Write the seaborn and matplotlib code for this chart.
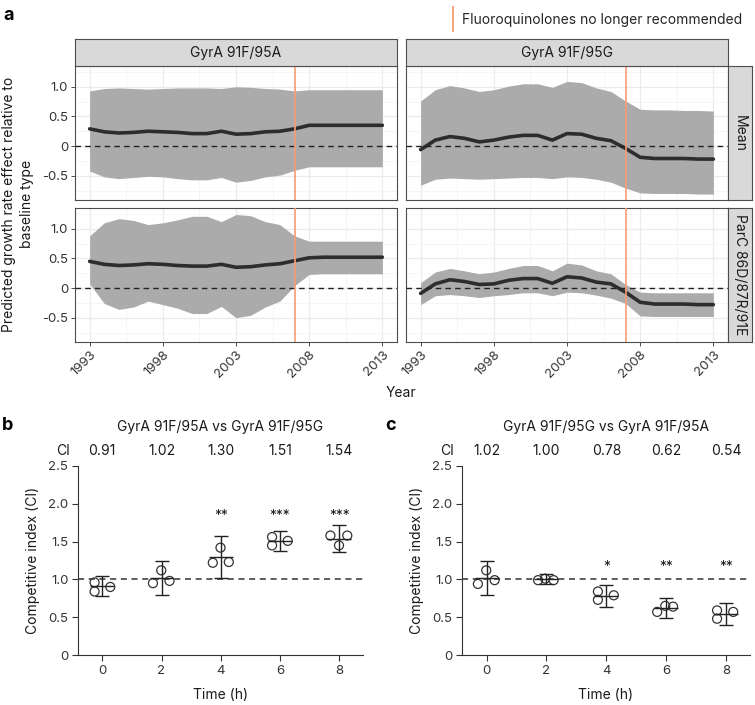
import numpy as np
import pandas as pd
import matplotlib
matplotlib.use("Agg")
import matplotlib.pyplot as plt
from matplotlib.lines import Line2D
from matplotlib.ticker import FixedLocator, FixedFormatter
import seaborn as sns

# ---------------- data ----------------
years = list(range(1993, 2014))
rows_a = ["Mean", "ParC 86D/87R/91E"]
cols_a = ["GyrA 91F/95A", "GyrA 91F/95G"]

a_mean_95A = [0.29, 0.24, 0.22, 0.23, 0.25, 0.24, 0.23, 0.21, 0.21, 0.25, 0.20, 0.21, 0.24, 0.25, 0.29, 0.35, 0.35, 0.35, 0.35, 0.35, 0.35]
a_hi_95A   = [0.93, 0.97, 0.98, 0.97, 0.96, 0.97, 0.98, 0.98, 0.98, 0.97, 1.00, 0.99, 0.97, 0.96, 0.93, 0.95, 0.95, 0.95, 0.95, 0.95, 0.95]
a_lo_95A   = [-0.42, -0.52, -0.55, -0.53, -0.51, -0.52, -0.55, -0.57, -0.57, -0.53, -0.61, -0.58, -0.52, -0.49, -0.41, -0.35, -0.35, -0.35, -0.35, -0.35, -0.35]

p_mean_95A = [0.45, 0.40, 0.38, 0.39, 0.41, 0.40, 0.38, 0.37, 0.37, 0.40, 0.35, 0.36, 0.39, 0.41, 0.46, 0.51, 0.52, 0.52, 0.52, 0.52, 0.52]
p_hi_95A   = [0.88, 1.10, 1.17, 1.14, 1.07, 1.10, 1.15, 1.21, 1.21, 1.12, 1.24, 1.22, 1.12, 1.07, 0.88, 0.79, 0.79, 0.79, 0.79, 0.79, 0.79]
p_lo_95A   = [0.07, -0.26, -0.36, -0.32, -0.22, -0.28, -0.34, -0.43, -0.43, -0.31, -0.50, -0.46, -0.32, -0.22, 0.04, 0.23, 0.24, 0.24, 0.24, 0.24, 0.24]

a_mean_95G = [-0.06, 0.10, 0.16, 0.13, 0.07, 0.10, 0.15, 0.18, 0.18, 0.10, 0.21, 0.20, 0.13, 0.09, -0.04, -0.19, -0.21, -0.21, -0.21, -0.22, -0.22]
a_hi_95G   = [0.76, 0.95, 1.02, 0.98, 0.92, 0.95, 1.01, 1.05, 1.05, 0.99, 1.09, 1.07, 0.98, 0.92, 0.76, 0.62, 0.61, 0.61, 0.60, 0.60, 0.59]
a_lo_95G   = [-0.66, -0.56, -0.54, -0.55, -0.56, -0.55, -0.54, -0.53, -0.53, -0.55, -0.52, -0.53, -0.56, -0.61, -0.71, -0.79, -0.80, -0.80, -0.80, -0.81, -0.81]

p_mean_95G = [-0.09, 0.07, 0.14, 0.11, 0.06, 0.07, 0.13, 0.16, 0.16, 0.08, 0.19, 0.17, 0.10, 0.07, -0.07, -0.24, -0.27, -0.27, -0.27, -0.28, -0.28]
p_hi_95G   = [0.09, 0.27, 0.33, 0.29, 0.24, 0.27, 0.33, 0.38, 0.38, 0.29, 0.42, 0.39, 0.29, 0.24, 0.06, -0.07, -0.08, -0.08, -0.08, -0.08, -0.08]
p_lo_95G   = [-0.28, -0.13, -0.11, -0.13, -0.16, -0.13, -0.11, -0.08, -0.08, -0.13, -0.07, -0.08, -0.12, -0.17, -0.26, -0.47, -0.48, -0.48, -0.48, -0.48, -0.48]

fq_year = 2007
fq_label = "Fluoroquinolones no longer recommended"
a_xticks = [1993, 1998, 2003, 2008, 2013]
a_yticks = [-0.5, 0, 0.5, 1.0]
a_yticklabels = ["-0.5", "0", "0.5", "1.0"]

times = [0, 2, 4, 6, 8]
b_title = "GyrA 91F/95A vs GyrA 91F/95G"
b_ci = [0.91, 1.02, 1.30, 1.51, 1.54]
b_lo = [0.78, 0.80, 1.02, 1.38, 1.36]
b_hi = [1.04, 1.24, 1.57, 1.64, 1.72]
b_rep_y = [[0.96, 0.84, 0.90], [0.95, 1.12, 0.98], [1.22, 1.42, 1.23], [1.56, 1.45, 1.51], [1.58, 1.45, 1.58]]
b_rep_dx = [[-0.26, -0.26, 0.27], [-0.29, -0.01, 0.27], [-0.27, -0.01, 0.27], [-0.27, -0.27, 0.26], [-0.30, -0.01, 0.27]]
b_stars = ["", "", "**", "***", "***"]

c_title = "GyrA 91F/95G vs GyrA 91F/95A"
c_ci = [1.02, 1.00, 0.78, 0.62, 0.54]
c_lo = [0.79, 0.94, 0.64, 0.49, 0.40]
c_hi = [1.25, 1.07, 0.92, 0.75, 0.69]
c_rep_y = [[0.94, 1.12, 0.99], [0.99, 1.01, 0.99], [0.84, 0.73, 0.79], [0.57, 0.65, 0.64], [0.59, 0.48, 0.57]]
c_rep_dx = [[-0.29, -0.01, 0.27], [-0.28, -0.04, 0.24], [-0.28, -0.28, 0.25], [-0.30, -0.03, 0.23], [-0.30, -0.30, 0.24]]
c_stars = ["", "", "*", "**", "**"]

bc_yticks = [0, 0.5, 1.0, 1.5, 2.0, 2.5]
bc_yticklabels = ["0", "0.5", "1.0", "1.5", "2.0", "2.5"]

# ---------------- style ----------------
sns.set_theme(style="white")
plt.rcParams["font.family"] = ["Inter", "DejaVu Sans"]
plt.rcParams["axes.unicode_minus"] = False

W, H = 755, 705
fig = plt.figure(figsize=(W / 100, H / 100), dpi=100)

def box(x0, y0, x1, y1):
    """pixel box (top-left origin) -> figure fraction rect"""
    return [x0 / W, (H - y1) / H, (x1 - x0) / W, (y1 - y0) / H]

RIB = "#ababab"
LINE = "#2d2d2d"
ORANGE = "#f79c72"
BORDER = "#4d4d4d"
GRID = "#ebebeb"
STRIP = "#d9d9d9"
TXT = "#1a1a1a"
TICKLAB = 9.5

panel_data = {
    (0, 0): (a_mean_95A, a_lo_95A, a_hi_95A),
    (0, 1): (a_mean_95G, a_lo_95G, a_hi_95G),
    (1, 0): (p_mean_95A, p_lo_95A, p_hi_95A),
    (1, 1): (p_mean_95G, p_lo_95G, p_hi_95G),
}
col_x = [(75, 397), (406, 728)]
row_y = [(66, 200), (208, 342)]

for (r, c), (m, lo, hi) in panel_data.items():
    x0, x1 = col_x[c]
    y0, y1 = row_y[r]
    ax = fig.add_axes(box(x0, y0, x1, y1))
    df = pd.DataFrame({"year": years, "mean": m, "lo": lo, "hi": hi})
    ax.set_xlim(1992, 2014)
    ax.set_ylim(-0.91, 1.35)
    ax.xaxis.set_major_locator(FixedLocator(a_xticks))
    ax.xaxis.set_minor_locator(FixedLocator([1995.5, 2000.5, 2005.5, 2010.5]))
    ax.yaxis.set_major_locator(FixedLocator(a_yticks))
    ax.yaxis.set_minor_locator(FixedLocator([-0.75, -0.25, 0.25, 0.75, 1.25]))
    ax.grid(True, which="major", color=GRID, lw=0.9)
    ax.grid(True, which="minor", color="#f4f4f4", lw=0.6)
    ax.set_axisbelow(True)
    ax.fill_between(df["year"], df["lo"], df["hi"], color=RIB, lw=0, zorder=2)
    sns.lineplot(data=df, x="year", y="mean", ax=ax, color=LINE, lw=2.6, zorder=4)
    ax.axhline(0, color="#222222", lw=1.0, ls=(0, (4, 3)), zorder=5)
    ax.axvline(fq_year, color=ORANGE, lw=1.2, zorder=6)
    for s in ax.spines.values():
        s.set_color(BORDER)
        s.set_linewidth(0.8)
    ax.set_xlabel("")
    ax.set_ylabel("")
    ax.tick_params(which="minor", length=0)
    if c == 0:
        ax.yaxis.set_major_formatter(FixedFormatter(a_yticklabels))
        ax.tick_params(axis="y", which="major", left=True, length=3, width=0.7,
                       color=BORDER, labelsize=TICKLAB, labelcolor="#333333", pad=2)
    else:
        ax.tick_params(axis="y", left=False, labelleft=False)
    if r == 1:
        ax.set_xticks(a_xticks)
        ax.set_xticklabels([str(y) for y in a_xticks], rotation=45, ha="right",
                           rotation_mode="anchor")
        ax.tick_params(axis="x", which="major", bottom=True, length=3, width=0.7,
                       color=BORDER, labelsize=TICKLAB, labelcolor="#333333", pad=2)
    else:
        ax.tick_params(axis="x", bottom=False, labelbottom=False)

# strips (top)
for c, lab in enumerate(cols_a):
    x0, x1 = col_x[c]
    sax = fig.add_axes(box(x0, 39, x1, 66))
    sax.set_facecolor(STRIP)
    sax.set_xticks([]); sax.set_yticks([])
    for s in sax.spines.values():
        s.set_color(BORDER); s.set_linewidth(0.8)
    sax.text(0.5, 0.5, lab, ha="center", va="center", fontsize=10, color=TXT,
             transform=sax.transAxes)
# strips (right)
for r, lab in enumerate(rows_a):
    y0, y1 = row_y[r]
    sax = fig.add_axes(box(728, y0, 752, y1))
    sax.set_facecolor(STRIP)
    sax.set_xticks([]); sax.set_yticks([])
    for s in sax.spines.values():
        s.set_color(BORDER); s.set_linewidth(0.8)
    sax.text(0.5, 0.5, lab, ha="center", va="center", fontsize=10, color=TXT,
             rotation=-90, transform=sax.transAxes)

# legend for the orange line
fig.legend(handles=[Line2D([], [], color=ORANGE, marker="|", markersize=19,
                           markeredgewidth=1.3, linestyle="None")],
           labels=[fq_label], loc="upper right", bbox_to_anchor=(752 / W, 1 - 3 / H),
           frameon=False, fontsize=10, handlelength=0.6, handletextpad=0.35,
           borderpad=0.2)

fig.text(18 / W, 1 - 204 / H, "Predicted growth rate effect relative to\nbaseline type",
         rotation=90, ha="center", va="center", fontsize=10, color=TXT,
         linespacing=1.3)
fig.text(401 / W, 1 - 393 / H, "Year", ha="center", va="center", fontsize=10, color=TXT)
fig.text(3 / W, 1 - 15 / H, "a", ha="left", va="center", fontsize=13,
         fontweight="bold", color="black")

# ---------------- panels b and c ----------------
def comp_panel(rect, title, ci, lo, hi, rep_y, rep_dx, stars, star_y, letter, letter_x):
    ax = fig.add_axes(rect)
    rows = []
    for t, ys, dxs in zip(times, rep_y, rep_dx):
        for yv, dx in zip(ys, dxs):
            rows.append({"time": t + dx, "ci": yv})
    pts = pd.DataFrame(rows)
    ax.set_xlim(-0.82, 8.8)
    ax.set_ylim(0, 2.5)
    ax.axhline(1.0, color="#333333", lw=1.1, ls=(0, (4, 3)), zorder=1)
    sns.scatterplot(data=pts, x="time", y="ci", ax=ax, s=42, facecolor="none",
                    edgecolor="#333333", linewidth=0.9, zorder=3)
    ci_a = np.array(ci); lo_a = np.array(lo); hi_a = np.array(hi); t_a = np.array(times)
    ax.errorbar(t_a, ci_a, yerr=[ci_a - lo_a, hi_a - ci_a], fmt="none",
                ecolor="#222222", elinewidth=1.0, capsize=5, capthick=1.0, zorder=4)
    ax.hlines(ci_a, t_a - 0.4, t_a + 0.4, color="#222222", lw=1.0, zorder=4)
    for t, st in zip(times, stars):
        if st:
            ax.text(t, star_y, st, ha="center", va="center", fontsize=10, color=TXT)
    sns.despine(ax=ax)
    for s in ("left", "bottom"):
        ax.spines[s].set_color("#333333")
        ax.spines[s].set_linewidth(0.8)
    ax.set_xticks(times)
    ax.set_xticklabels([str(t) for t in times])
    ax.yaxis.set_major_locator(FixedLocator(bc_yticks))
    ax.yaxis.set_major_formatter(FixedFormatter(bc_yticklabels))
    ax.tick_params(axis="both", which="major", length=4, width=0.8, color="#333333",
                   labelsize=TICKLAB, labelcolor="#333333", pad=3, left=True, bottom=True)
    ax.set_xlabel("Time (h)", fontsize=10, color=TXT, labelpad=8)
    ax.set_ylabel("Competitive index (CI)", fontsize=10, color=TXT, labelpad=6)
    ax.text(0.5, 1.206, title, transform=ax.transAxes, ha="center", va="center",
            fontsize=10, color=TXT)
    trans = matplotlib.transforms.blended_transform_factory(ax.transData, ax.transAxes)
    for t, v in zip(times, ci):
        ax.text(t, 1.079, f"{v:.2f}", transform=trans, ha="center", va="center",
                fontsize=10, color=TXT)
    ax.text(-1.32, 1.079, "CI", transform=trans, ha="center", va="center",
            fontsize=10, color=TXT)
    fig.text(letter_x / W, 1 - 425 / H, letter, ha="left", va="center", fontsize=13,
             fontweight="bold", color="black")
    return ax

comp_panel(box(78, 466, 363, 655), b_title, b_ci, b_lo, b_hi, b_rep_y, b_rep_dx,
           b_stars, 1.84, "b", 2)
comp_panel(box(462, 466, 750, 655), c_title, c_ci, c_lo, c_hi, c_rep_y, c_rep_dx,
           c_stars, 1.16, "c", 385)

fig.savefig("out.png", dpi=100)
